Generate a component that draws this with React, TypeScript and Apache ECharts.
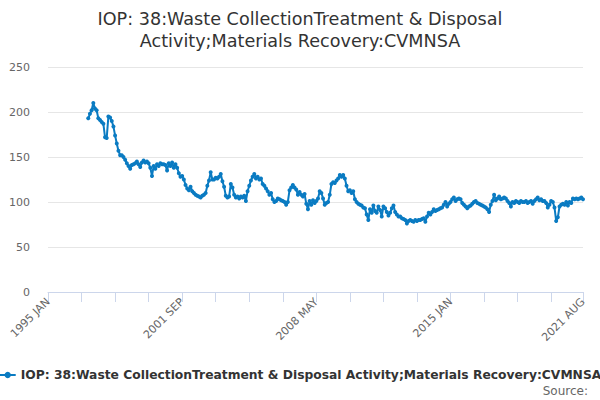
import React, { useEffect, useRef } from 'react';
import * as echarts from 'echarts';

const seriesName = 'IOP: 38:Waste CollectionTreatment & Disposal Activity;Materials Recovery:CVMNSA';
const titleText = 'IOP: 38:Waste CollectionTreatment & Disposal\nActivity;Materials Recovery:CVMNSA';

const monthNames = ['JAN', 'FEB', 'MAR', 'APR', 'MAY', 'JUN', 'JUL', 'AUG', 'SEP', 'OCT', 'NOV', 'DEC'];
const firstYear = 1995;
const lastYear = 2021;
const lastMonth = 8; // AUG
const dataStartYear = 1997;

// monthly index values, 1997 JAN .. 2021 AUG
const values = [
  // 1997
  193, 198, 202, 210, 204, 202, 193, 191, 189, 187, 172, 171,
  // 1998
  195, 194, 190, 184, 174, 165, 157, 152, 152, 150, 147, 143,
  // 1999
  140, 137, 141, 142, 143, 145, 142, 139, 144, 146, 144, 145,
  // 2000
  143, 138, 129, 140, 137, 142, 140, 143, 142, 142, 141, 135,
  // 2001
  143, 140, 144, 138, 142, 138, 132, 128, 129, 125, 119, 115,
  // 2002
  113, 117, 112, 110, 108, 107, 106, 105, 107, 108, 110, 118,
  // 2003
  124, 133, 125, 125, 127, 126, 128, 131, 123, 117, 107, 105,
  // 2004
  106, 120, 116, 108, 105, 106, 104, 106, 105, 107, 101, 112,
  // 2005
  118, 124, 128, 131, 126, 128, 125, 126, 120, 118, 115, 112,
  // 2006
  108, 110, 103, 100, 101, 104, 103, 102, 101, 100, 97, 100,
  // 2007
  113, 116, 119, 116, 114, 108, 111, 108, 106, 109, 98, 92,
  // 2008
  101, 97, 102, 99, 101, 104, 112, 110, 104, 97, 99, 100,
  // 2009
  108, 120, 122, 121, 124, 126, 130, 128, 130, 126, 118, 112,
  // 2010
  113, 110, 112, 103, 100, 98, 97, 96, 94, 93, 86, 80,
  // 2011
  92, 88, 96, 90, 88, 95, 91, 84, 95, 93, 89, 85,
  // 2012
  88, 93, 96, 89, 86, 84, 84, 82, 81, 80, 76, 79,
  // 2013
  80, 79, 78, 80, 79, 80, 80, 81, 82, 78, 84, 88,
  // 2014
  86, 89, 92, 90, 91, 92, 93, 94, 97, 100, 95, 98,
  // 2015
  100, 103, 105, 101, 103, 104, 103, 99, 97, 95, 93, 95,
  // 2016
  96, 98, 100, 101, 99, 98, 97, 96, 95, 94, 92, 89,
  // 2017
  97, 101, 108, 102, 104, 106, 103, 104, 105, 104, 101, 99,
  // 2018
  95, 100, 99, 101, 100, 99, 101, 100, 100, 101, 99, 100,
  // 2019
  101, 98, 101, 103, 105, 102, 103, 101, 101, 99, 94, 97,
  // 2020
  101, 100, 94, 79, 83, 95, 97, 98, 97, 100, 96, 100,
  // 2021
  99, 104, 103, 104, 103, 104, 105, 103,
];

const yTicks = [0, 50, 100, 150, 200, 250];

const categories: string[] = [];
for (let y = firstYear; y <= lastYear; y++) {
  for (let m = 0; m < 12; m++) {
    if (y === lastYear && m >= lastMonth) break;
    categories.push(y + ' ' + monthNames[m]);
  }
}
const padCount = (dataStartYear - firstYear) * 12;
const seriesData: (number | null)[] = [...Array(padCount).fill(null), ...values];

const FONT = '"DejaVu Sans", Verdana, sans-serif';
const LINE_COLOR = '#0a7bc2';

const App = () => {
  const chartRef = useRef<HTMLDivElement>(null);

  useEffect(() => {
    document.body.style.margin = '0';
    if (!chartRef.current) return;
    const chart = echarts.init(chartRef.current, null, { renderer: 'svg' });
    const lastIdx = categories.length - 1;

    chart.setOption({
      animation: false,
      textStyle: { fontFamily: FONT },
      title: {
        text: titleText,
        left: 'center',
        top: 3,
        textStyle: {
          fontFamily: FONT,
          fontSize: 17.6,
          fontWeight: 'normal',
          color: '#333333',
          lineHeight: 22,
        },
      },
      legend: {
        bottom: 14,
        left: 'center',
        itemWidth: 16,
        itemHeight: 8,
        itemGap: 5,
        textStyle: { fontFamily: FONT, fontSize: 12.3, fontWeight: 'bold', color: '#333333' },
        data: [seriesName],
      },
      grid: { left: 48, right: 17, top: 67, bottom: 108 },
      xAxis: {
        type: 'category',
        data: categories,
        boundaryGap: false,
        axisLine: { lineStyle: { color: '#ccd6eb', width: 1 } },
        axisTick: {
          length: 10,
          lineStyle: { color: '#ccd6eb' },
          interval: (i: number) => i % 20 === 0 || i === lastIdx,
        },
        axisLabel: {
          rotate: 45,
          color: '#666666',
          fontSize: 11,
          fontFamily: FONT,
          margin: 8,
          interval: (i: number) => i % 80 === 0 || i === lastIdx,
        },
        splitLine: { show: false },
      },
      yAxis: {
        type: 'value',
        min: yTicks[0],
        max: yTicks[yTicks.length - 1],
        interval: 50,
        axisLine: { show: false },
        axisTick: { show: false },
        axisLabel: { color: '#666666', fontSize: 11, fontFamily: FONT, margin: 18 },
        splitLine: { lineStyle: { color: '#e6e6e6' } },
      },
      series: [
        {
          name: seriesName,
          type: 'line',
          data: seriesData,
          color: LINE_COLOR,
          symbol: 'circle',
          symbolSize: 4,
          showAllSymbol: true,
          lineStyle: { width: 2, color: LINE_COLOR },
          itemStyle: { color: LINE_COLOR },
        },
      ],
      graphic: [
        {
          type: 'text',
          right: 12,
          bottom: 3,
          style: { text: 'Source:', fill: '#666666', font: '12px ' + FONT },
        },
      ],
    });

    return () => chart.dispose();
  }, []);

  return <div ref={chartRef} style={{ width: 600, height: 400 }} />;
};

export default App;
